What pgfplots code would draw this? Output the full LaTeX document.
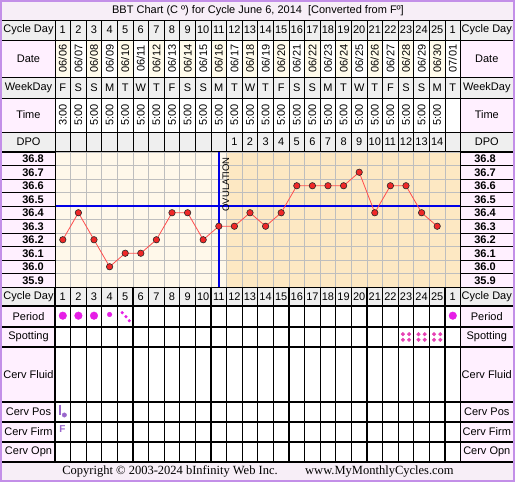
\documentclass[border=0pt]{standalone}
\usepackage{fontspec}
\setmainfont{Liberation Sans}
\newfontfamily\seriffont{Liberation Serif}
\usepackage{pgfplots}
\pgfplotsset{compat=1.18}

\definecolor{frame}{HTML}{C38FE8}
\definecolor{titlebg}{HTML}{F7EEF7}
\definecolor{labbg}{HTML}{FFF0FF}
\definecolor{greybg}{HTML}{EFEFEF}
\definecolor{datebg}{HTML}{FFFBEB}
\definecolor{prebg}{HTML}{FFF8EA}
\definecolor{postbg}{HTML}{FDE8C3}
\definecolor{gridc}{HTML}{BEBEBE}
\definecolor{cover}{HTML}{0000E6}
\definecolor{tline}{HTML}{FF4D4D}
\definecolor{tdot}{HTML}{F02828}
\definecolor{period}{HTML}{E61EE6}
\definecolor{spot}{HTML}{E640B4}
\definecolor{cerv}{HTML}{9966CC}

\newcommand\lab{\fontsize{11}{13}\selectfont}

\begin{document}
\begin{tikzpicture}
\useasboundingbox (0,0) rectangle (515pt,482pt);

% cell backgrounds
\begin{scope}[x=1pt,y=1pt]
\fill[titlebg] (2,462) rectangle (513,480);
\fill[titlebg] (2,2) rectangle (513,20);
\foreach \ya/\yb/\c in {442/462/greybg, 405/442/labbg, 384/405/greybg, 350/384/labbg,
    330.5/350/greybg, 195/330.5/labbg, 176/195/greybg, 20/176/labbg} {
  \fill[\c] (2,\ya) rectangle (55,\yb);
  \fill[\c] (460.6,\ya) rectangle (513,\yb);
}
\fill[greybg] (55,442) rectangle (460.6,462);
\fill[white] (55,405) rectangle (460.6,442);
\foreach \i in {0,2,...,24} \fill[datebg] ({55+15.6*\i},405) rectangle ({55+15.6*(\i+1)},442);
\fill[greybg] (55,384) rectangle (460.6,405);
\fill[white] (55,350) rectangle (460.6,384);
\fill[greybg] (55,330.5) rectangle (460.6,350);
\fill[prebg] (55,195) rectangle (226.6,330.5);
\fill[postbg] (226.6,195) rectangle (460.6,330.5);
\fill[greybg] (55,176) rectangle (460.6,195);
\fill[white] (55,20) rectangle (460.6,176);
\end{scope}

% temperature chart
\begin{axis}[at={(55pt,195pt)}, anchor=south west, scale only axis,
    width=405.6pt, height=135pt,
    xmin=0.5, xmax=26.5, ymin=35.85, ymax=36.85,
    axis line style={draw=none}, major tick length=0pt,
    xtick={0.5,1.5,...,26.5},
    ytick={35.85,35.95,36.05,36.15,36.25,36.35,36.45,36.55,36.65,36.75,36.85},
    xticklabels={}, yticklabels={},
    grid=major, grid style={gridc, line width=0.7pt}]
\addplot[cover, line width=2pt] coordinates {(0.5,36.45) (26.5,36.45)};
\addplot[cover, line width=2pt] coordinates {(11,35.85) (11,36.85)};
\node[rotate=90, font=\fontsize{9.5}{11}\selectfont] at (axis cs:11.45,36.61) {OVULATION};
\addplot[tline, line width=0.8pt, mark=*, mark size=3.2pt,
    mark options={fill=tdot, draw=black!85, line width=0.6pt}] coordinates {
  (1,36.2) (2,36.4) (3,36.2) (4,36.0) (5,36.1) (6,36.1) (7,36.2) (8,36.4)
  (9,36.4) (10,36.2) (11,36.3) (12,36.3) (13,36.4) (14,36.3) (15,36.4)
  (16,36.6) (17,36.6) (18,36.6) (19,36.6) (20,36.7) (21,36.4) (22,36.6)
  (23,36.6) (24,36.4) (25,36.3)};
\end{axis}

% period, spotting and cervix observations
\begin{axis}[at={(55pt,20pt)}, anchor=south west, scale only axis,
    width=405.6pt, height=175pt,
    xmin=0.5, xmax=26.5, ymin=20, ymax=195, hide axis, clip=false]
\addplot[only marks, mark=*, mark size=3.8pt, color=period] coordinates {(1,166.3) (2,166.3) (3,166.3) (26,166.3)};
\addplot[only marks, mark=*, mark size=2.3pt, color=period] coordinates {(4,167.5)};
\addplot[only marks, mark=*, mark size=1.4pt, color=period] coordinates {(4.81,169.3) (5.05,165.3) (5.26,161.3)};
\addplot[only marks, mark=*, mark size=1.8pt, color=spot] coordinates {
  (22.8,147.8) (23.2,147.8) (22.8,142.2) (23.2,142.2)
  (23.8,147.8) (24.2,147.8) (23.8,142.2) (24.2,142.2)
  (24.8,147.8) (25.2,147.8) (24.8,142.2) (25.2,142.2)};
\addplot[cerv, line width=1.1pt] coordinates {(0.82,77) (0.82,67)};
\addplot[only marks, mark=*, mark size=2.2pt, color=cerv] coordinates {(1.1,67)};
\node[cerv, font=\fontsize{10}{11}\selectfont\bfseries] at (axis cs:0.97,53) {F};
\end{axis}

% table lines and texts
\begin{scope}[x=1pt,y=1pt]
\foreach \y in {462,442,405,384,350,330.5} \draw[line width=0.8pt] (2,\y) -- (513,\y);
\foreach \i in {0,...,26} \draw[line width=0.8pt] ({55+15.6*\i},330.5) -- ({55+15.6*\i},462);
\foreach \k in {0,...,10} {
  \draw[line width=0.8pt] (2,{195+13.5*\k}) -- (55,{195+13.5*\k});
  \draw[line width=0.8pt] (460.6,{195+13.5*\k}) -- (513,{195+13.5*\k});
}
\draw[line width=0.8pt] (55,195) -- (55,330.5) (460.6,195) -- (460.6,330.5);
\draw[line width=0.8pt] (2,195) -- (513,195);
\foreach \y in {176,155,135,80,60,40,20} \draw[line width=2pt] (2,\y) -- (513,\y);
\foreach \i in {0,...,26} \draw[line width=1.2pt] ({55+15.6*\i},20) -- ({55+15.6*\i},195);

\node[font=\lab] at (258,471) {BBT Chart (C º) for Cycle June 6, 2014\ \ [Converted from Fº]};
\node[font=\seriffont\fontsize{12.5}{14}\selectfont] at (258,11) {Copyright © 2003-2024 bInfinity Web Inc.\hspace{2.2em}www.MyMonthlyCycles.com};

\foreach \t/\y in {Cycle Day/452, Date/423.5, WeekDay/394.5, Time/367, DPO/340,
    Cycle Day/185.5, Period/165.5, Spotting/145, Cerv Fluid/107.5, Cerv Pos/70,
    Cerv Firm/50, Cerv Opn/30} {
  \node[font=\lab] at (28.5,\y) {\t};
  \node[font=\lab] at (486.8,\y) {\t};
}
\foreach \t [count=\k from 0] in {35.9,36.0,36.1,36.2,36.3,36.4,36.5,36.6,36.7,36.8} {
  \node[font=\lab\bfseries] at (33,{201.75+13.5*\k}) {\t};
  \node[font=\lab\bfseries] at (485,{201.75+13.5*\k}) {\t};
}
\foreach \t [count=\i from 0] in {1,2,3,4,5,6,7,8,9,10,11,12,13,14,15,16,17,18,19,20,21,22,23,24,25,1} {
  \node[font=\lab] at ({62.8+15.6*\i},452) {\t};
  \node[font=\lab] at ({62.8+15.6*\i},185.5) {\t};
}
\foreach \t [count=\i from 0] in {06/06,06/07,06/08,06/09,06/10,06/11,06/12,06/13,06/14,06/15,
    06/16,06/17,06/18,06/19,06/20,06/21,06/22,06/23,06/24,06/25,06/26,06/27,06/28,06/29,06/30,07/01}
  \node[font=\lab, rotate=90] at ({62.8+15.6*\i},423.5) {\t};
\foreach \t [count=\i from 0] in {F,S,S,M,T,W,T,F,S,S,M,T,W,T,F,S,S,M,T,W,T,F,S,S,M,T}
  \node[font=\lab] at ({62.8+15.6*\i},394.5) {\t};
\foreach \t [count=\i from 0] in {3:00,5:00,5:00,5:00,5:00,5:00,5:00,5:00,5:00,5:00,5:00,5:00,5:00,
    5:00,5:00,5:00,5:00,5:00,5:00,5:00,5:00,5:00,5:00,5:00,5:00}
  \node[font=\lab, rotate=90] at ({62.8+15.6*\i},367) {\t};
\foreach \t [count=\i from 11] in {1,2,3,4,5,6,7,8,9,10,11,12,13,14}
  \node[font=\lab] at ({62.8+15.6*\i},340) {\t};

\draw[frame, line width=2pt] (1,1) rectangle (514,481);
\end{scope}
\end{tikzpicture}
\end{document}
